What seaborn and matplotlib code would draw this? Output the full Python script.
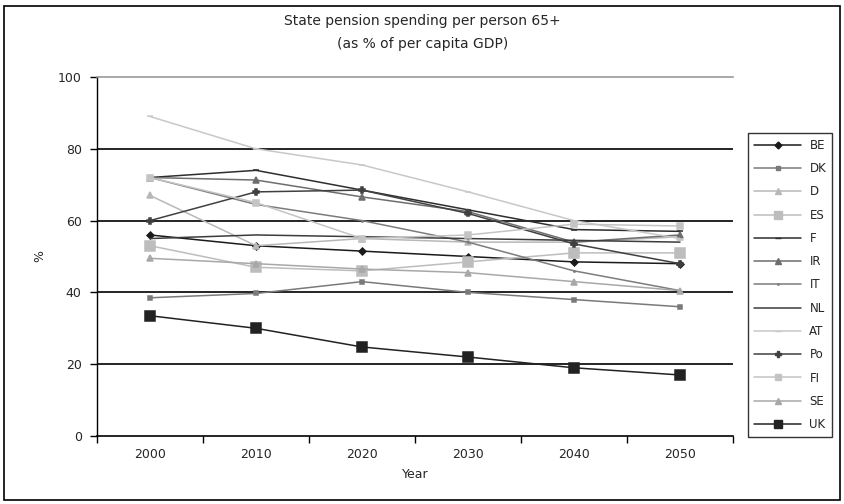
import matplotlib
matplotlib.use("Agg")
import matplotlib.pyplot as plt
from matplotlib.lines import Line2D
from matplotlib.patches import Rectangle
import seaborn as sns
import pandas as pd

# Projected state pension spending per person aged 65+, % of per capita GDP
years = [2000, 2010, 2020, 2030, 2040, 2050]
countries = ["BE", "DK", "D", "ES", "F", "IR", "IT", "NL", "AT", "Po", "FI", "SE", "UK"]
BE = [56, 53, 51.5, 50, 48.5, 48]
DK = [38.5, 39.7, 43, 40, 38, 36]
D = [67, 53, 55, 54, 54, 55.5]
ES = [53, 47, 46, 48.5, 51, 51]
F = [72, 74, 68.5, 63, 57.5, 57]
IR = [72, 71.3, 66.6, 62.5, 54, 56]
IT = [72, 64.5, 60, 54, 46, 40.5]
NL = [55, 56, 55.5, 55, 54.5, 54]
AT = [89, 80, 75.5, 68, 60, 55]
Po = [60, 68, 68.5, 62, 53.5, 48]
FI = [72, 65, 55, 56, 59, 58.5]
SE = [49.5, 48, 46.5, 45.5, 43, 40.5]
UK = [33.5, 30, 24.8, 22, 19, 17]
series = [BE, DK, D, ES, F, IR, IT, NL, AT, Po, FI, SE, UK]
y_ticks = [0, 20, 40, 60, 80, 100]

df = pd.DataFrame(
    [(c, yr, v) for c, vals in zip(countries, series) for yr, v in zip(years, vals)],
    columns=["country", "year", "value"],
)

# line colour, marker, marker size per country
styles = {
    "BE": ("#1a1a1a", "D", 3.5),
    "DK": ("#7a7a7a", "s", 3.5),
    "D":  ("#b8b8b8", "^", 4.5),
    "ES": ("#bdbdbd", "s", 7),
    "F":  ("#2e2e2e", "_", 5),
    "IR": ("#6e6e6e", "^", 4.5),
    "IT": ("#7c7c7c", ".", 2),
    "NL": ("#3c3c3c", "", 0),
    "AT": ("#c8c8c8", "_", 4),
    "Po": ("#404040", "P", 4),
    "FI": ("#c4c4c4", "s", 4.5),
    "SE": ("#a8a8a8", "^", 5),
    "UK": ("#222222", "s", 7),
}

sns.set_theme(style="white")
plt.rcParams["font.family"] = ["DejaVu Sans"]

fig = plt.figure(figsize=(8.45, 5.04), dpi=100)
ax = fig.add_axes([97 / 845, 1 - 436 / 504, 636 / 845, 359 / 504])

for c in countries:
    col, mk, ms = styles[c]
    sub = df[df["country"] == c]
    sns.lineplot(
        data=sub, x="year", y="value", ax=ax, color=col, lw=1.1,
        marker=mk if mk else None, markersize=ms, markeredgecolor=col,
        markeredgewidth=1.1, legend=False,
    )

ax.set_xlim(1995, 2055)
ax.set_ylim(0, 100)
ax.set_xticks(years)
ax.set_xticklabels([str(y) for y in years], fontsize=9)
ax.set_xticks([1995 + 10 * i for i in range(7)], minor=True)
ax.tick_params(axis="x", which="major", length=0, pad=9)
ax.tick_params(axis="x", which="minor", length=5, width=1, color="black", direction="out", bottom=True)
ax.set_yticks(y_ticks)
ax.set_yticklabels([str(t) for t in y_ticks], fontsize=9)
ax.tick_params(axis="y", length=5, width=1, color="black", direction="out", left=True, pad=6)

for t in y_ticks[1:-1]:
    ax.axhline(t, color="black", lw=1.2, zorder=0)

ax.spines["right"].set_visible(False)
ax.spines["top"].set_color("#9a9a9a")
ax.spines["top"].set_linewidth(1.2)
ax.spines["left"].set_color("black")
ax.spines["bottom"].set_color("black")
ax.spines["left"].set_linewidth(1)
ax.spines["bottom"].set_linewidth(1.2)

ax.set_xlabel("Year", fontsize=9, labelpad=5)
ax.set_ylabel("%", fontsize=9, labelpad=8)

fig.text(0.5, 1 - 21 / 504, "State pension spending per person 65+", ha="center", va="center", fontsize=10)
fig.text(0.5, 1 - 44 / 504, "(as % of per capita GDP)", ha="center", va="center", fontsize=10)

handles = []
for c in countries:
    col, mk, ms = styles[c]
    handles.append(Line2D([], [], color=col, lw=1.1, marker=mk if mk else None,
                          markersize=min(ms, 6), markeredgecolor=col, label=c))
leg = fig.legend(
    handles=handles, loc="center left", bbox_to_anchor=(748 / 845, 1 - 285 / 504),
    fontsize=8.5, frameon=True, fancybox=False, edgecolor="black",
    handlelength=4.0, labelspacing=0.87, borderpad=0.5, handletextpad=0.7,
    borderaxespad=0,
)
leg.get_frame().set_linewidth(1)

fig.patches.append(Rectangle((4 / 845, 4 / 504), 836 / 845, 494 / 504, transform=fig.transFigure,
                             fill=False, edgecolor="black", lw=1.2))

fig.savefig("out.png", dpi=100)
